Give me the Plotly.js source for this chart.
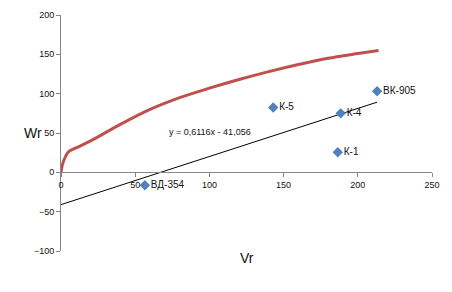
<!DOCTYPE html>
<html><head><meta charset="utf-8">
<script src="https://cdn.plot.ly/plotly-3.0.1.min.js"></script>
<style>html,body{margin:0;padding:0;background:#fff}#c{width:452px;height:292px}</style>
</head><body><div id="c"></div>
<script>
const curveX = [0, 1, 3, 5, 10, 20, 40, 60, 80, 100, 120, 140, 160, 180, 200, 214];
const curveY = [0, 10, 20, 26, 31, 40, 61, 80, 95, 107, 118, 128, 137, 145, 151, 155];
const pointNames = ["ВД-354", "К-5", "К-4", "К-1", "ВК-905"];
const pointX = [56.5, 143, 188.5, 186.5, 213];
const pointY = [-16.5, 82.5, 75, 25.5, 103];
const trendX = [0, 213];
const trendY = [-41.056, 89.2];
const trendLabel = "y = 0,6116x - 41,056";
const xTicks = [0, 50, 100, 150, 200, 250];
const yTicks = [-100, -50, 0, 50, 100, 150, 200];

const font = "Liberation Sans, Arial, sans-serif";
const traces = [
  {x: curveX, y: curveY, mode: "lines", line: {color: "#C0504D", width: 3, shape: "spline", smoothing: 0.8}, hoverinfo: "skip"},
  {x: trendX, y: trendY, mode: "lines", line: {color: "#000000", width: 1}, hoverinfo: "skip"},
  {x: pointX, y: pointY, mode: "markers+text", text: pointNames, textposition: "middle right",
   textfont: {family: font, size: 10, color: "#111"},
   marker: {symbol: "diamond", size: 8, color: "#4F81BD"}}
];
const layout = {
  width: 452, height: 292,
  margin: {l: 61, r: 20, t: 15, b: 41},
  showlegend: false,
  paper_bgcolor: "#fff", plot_bgcolor: "#fff",
  font: {family: font, size: 9, color: "#111"},
  xaxis: {range: [0, 250], tickvals: xTicks, showgrid: false, zeroline: false,
          showline: true, linecolor: "#868686", linewidth: 1,
          ticks: "outside", ticklen: 4, tickcolor: "#868686",
          anchor: "free", position: 1/3, tickfont: {size: 9, family: font}},
  yaxis: {range: [-100, 200], tickvals: yTicks, showgrid: false, zeroline: false,
          showline: true, linecolor: "#868686", linewidth: 1,
          ticks: "outside", ticklen: 4, tickcolor: "#868686", tickfont: {size: 9, family: font}},
  annotations: [
    {text: trendLabel, x: 100.5, y: 51, xref: "x", yref: "y", showarrow: false,
     font: {family: font, size: 9, color: "#111"}},
    {text: "Wr", x: (22 - 61) / 371, y: (251 - 133) / 236, xref: "paper", yref: "paper", showarrow: false,
     font: {family: font, size: 14, color: "#111"}},
    {text: "Vr", x: 0.5, y: (251 - 268) / 236, xref: "paper", yref: "paper", showarrow: false,
     font: {family: font, size: 14, color: "#111"}}
  ]
};
Plotly.newPlot("c", traces, layout, {displayModeBar: false, staticPlot: true});
</script></body></html>
